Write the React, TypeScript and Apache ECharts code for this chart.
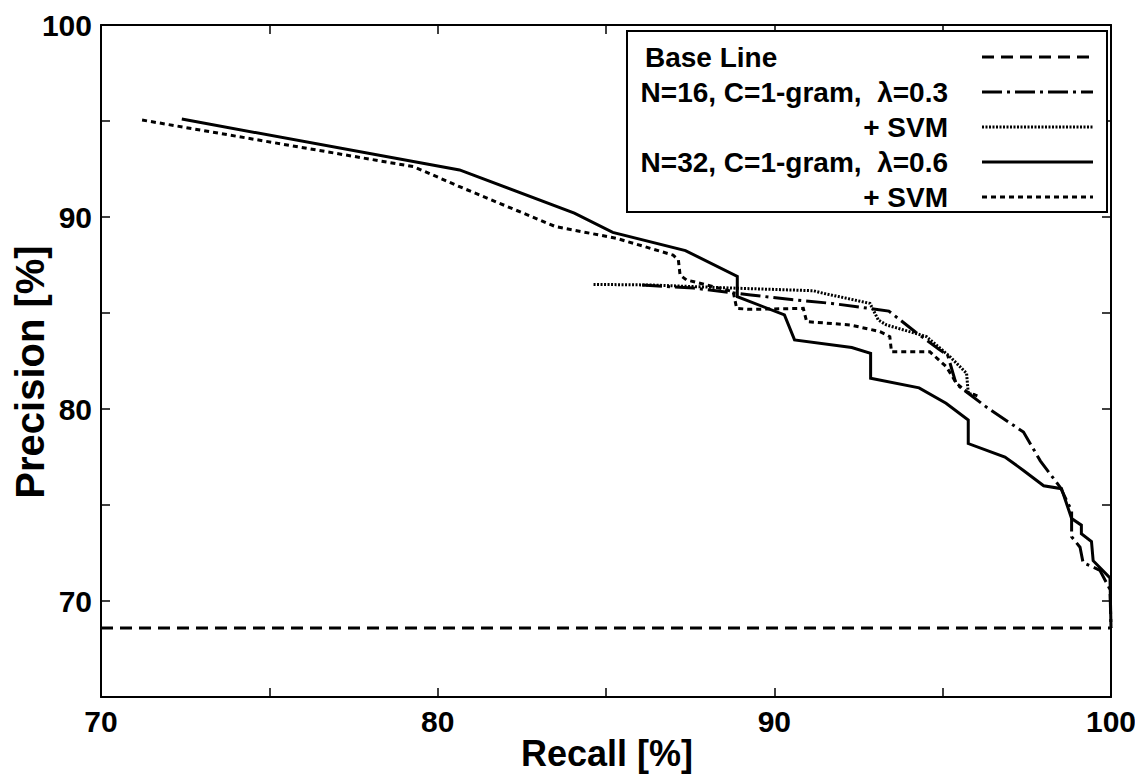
import React, { useEffect, useRef } from "react";
import * as echarts from "echarts";

// ---- data ----
const xTicks = [70, 80, 90, 100];
const yTicks = [70, 80, 90, 100];
const xTitle = "Recall [%]";
const yTitle = "Precision [%]";

const baseLineRecall = [70, 100];
const baseLinePrecision = [68.6, 68.6];

const n16Recall = [86.07, 87.6, 89.3, 90.5, 91.7, 93.0, 93.4, 94.2, 94.9, 95.15, 95.4, 95.7, 96.3, 97.4, 97.9, 98.5, 98.83, 98.83, 99.08, 99.17, 99.67, 99.97, 100];
const n16Precision = [86.46, 86.3, 85.94, 85.7, 85.5, 85.2, 85.1, 84.0, 83.1, 82.8, 81.3, 80.9, 80.1, 78.8, 77.3, 75.9, 74.7, 73.35, 72.8, 72.0, 71.6, 70.6, 68.6];

const n16SvmRecall = [84.63, 86.3, 88.9, 91.16, 91.45, 92.84, 93.09, 93.33, 94.52, 95.22, 95.71, 95.76, 95.96];
const n16SvmPrecision = [86.49, 86.46, 86.29, 86.16, 86.03, 85.5, 84.63, 84.38, 83.77, 82.72, 81.86, 80.82, 80.73];

const n32Recall = [72.4, 80.65, 84.06, 85.2, 87.36, 88.9, 88.9, 90.3, 90.6, 92.3, 92.86, 92.86, 94.3, 95.1, 95.76, 95.76, 96.85, 97.4, 98.0, 98.53, 98.83, 99.12, 99.12, 99.42, 99.47, 99.97, 100];
const n32Precision = [95.1, 92.45, 90.2, 89.2, 88.25, 86.9, 85.85, 84.9, 83.6, 83.2, 82.9, 81.6, 81.1, 80.3, 79.43, 78.2, 77.5, 76.8, 76.0, 75.85, 74.3, 73.95, 73.5, 73.1, 72.1, 71.2, 68.6];

const n32SvmRecall = [71.22, 79.29, 80.65, 83.5, 85.31, 86.99, 87.15, 87.2, 87.39, 87.79, 88.78, 88.88, 89.27, 90.86, 90.96, 92.25, 93.14, 93.43, 93.48, 94.62, 95.11, 95.41, 95.71, 96.1];
const n32SvmPrecision = [95.05, 92.62, 91.58, 89.5, 88.89, 88.02, 87.76, 86.98, 86.72, 86.55, 86.11, 85.24, 85.19, 85.24, 84.55, 84.38, 84.03, 83.77, 82.98, 82.98, 82.2, 81.34, 80.9, 80.64];

const legendLabels = [
  "Base Line",
  "N=16, C=1-gram,  \u03bb=0.3",
  "+ SVM",
  "N=32, C=1-gram,  \u03bb=0.6",
  "+ SVM",
];

const zip = (xs: number[], ys: number[]) => xs.map((x, i) => [x, ys[i]]);

const FONT = "'Liberation Sans', Arial, Helvetica, sans-serif";

const dashBase = [12, 7];
const dashDot = [20, 5, 3, 5];
const dotFine = [2, 1.5];
const dashShort = [5, 4];

export default function App() {
  const ref = useRef<HTMLDivElement>(null);

  useEffect(() => {
    if (!ref.current) return;
    const chart = echarts.init(ref.current, null, { renderer: "svg" });

    const lineSeries = (name: string, data: number[][], type: any, width = 3) => ({
      name,
      type: "line",
      data,
      symbol: "none",
      showSymbol: false,
      silent: true,
      lineStyle: { color: "#000", width, type, cap: "butt", join: "miter" },
      z: 3,
    });

    const styles = [dashBase, dashDot, dotFine, "solid", dashShort];
    const legendX0 = 982;
    const legendX1 = 1093;
    const rowY = [57, 92, 127, 162, 197];

    const graphics: any[] = [
      {
        type: "rect",
        shape: { x: 627, y: 31, width: 480, height: 181 },
        style: { fill: "#fff", stroke: "#000", lineWidth: 2 },
        z: 10,
      },
      {
        type: "text",
        x: 607,
        y: 753,
        style: {
          text: xTitle,
          font: `bold 36px ${FONT}`,
          fill: "#000",
          align: "center",
          verticalAlign: "middle",
        },
      },
      {
        type: "text",
        x: 30,
        y: 372,
        rotation: Math.PI / 2,
        style: {
          text: yTitle,
          font: `bold 40px ${FONT}`,
          fill: "#000",
          align: "center",
          verticalAlign: "middle",
        },
      },
    ];
    legendLabels.forEach((label, i) => {
      graphics.push({
        type: "text",
        x: i === 0 ? 645 : 948,
        y: rowY[i],
        style: {
          text: label,
          font: `bold 28px ${FONT}`,
          fill: "#000",
          align: i === 0 ? "left" : "right",
          verticalAlign: "middle",
        },
        z: 11,
      });
      const st = styles[i];
      graphics.push({
        type: "line",
        shape: { x1: legendX0, y1: rowY[i], x2: legendX1, y2: rowY[i] },
        style: {
          stroke: "#000",
          lineWidth: 3,
          lineDash: st === "solid" ? null : (st as number[]),
        },
        z: 11,
      });
    });

    const axisCommon = {
      type: "value",
      interval: 5,
      splitLine: { show: false },
      axisLine: { show: true, onZero: false, lineStyle: { color: "#000", width: 2 } },
      axisTick: { show: true, inside: true, length: 9, lineStyle: { color: "#000", width: 1.5 } },
    };

    const labelStyle = {
      show: true,
      margin: 9,
      color: "#000",
      fontSize: 30,
      fontWeight: "bold",
      fontFamily: FONT,
    };

    chart.setOption({
      animation: false,
      backgroundColor: "#fff",
      grid: { left: 101, right: 24, top: 25, bottom: 78, containLabel: false, outerBoundsMode: "none" },
      xAxis: [
        {
          ...axisCommon,
          position: "bottom",
          min: 70,
          max: 100,
          axisLabel: { ...labelStyle, formatter: (v: number) => (xTicks.includes(v) ? String(v) : "") },
        },
        { ...axisCommon, position: "top", min: 70, max: 100, axisLabel: { show: false } },
      ],
      yAxis: [
        {
          ...axisCommon,
          position: "left",
          min: 65,
          max: 100,
          axisLabel: { ...labelStyle, formatter: (v: number) => (yTicks.includes(v) ? String(v) : "") },
        },
        { ...axisCommon, position: "right", min: 65, max: 100, axisLabel: { show: false } },
      ],
      series: [
        lineSeries(legendLabels[0], zip(baseLineRecall, baseLinePrecision), dashBase),
        lineSeries(legendLabels[1], zip(n16Recall, n16Precision), dashDot),
        lineSeries("N=16 + SVM", zip(n16SvmRecall, n16SvmPrecision), dotFine),
        lineSeries(legendLabels[3], zip(n32Recall, n32Precision), "solid"),
        lineSeries("N=32 + SVM", zip(n32SvmRecall, n32SvmPrecision), dashShort),
      ],
      graphic: graphics,
    });

    return () => chart.dispose();
  }, []);

  return (
    <div
      ref={ref}
      style={{ position: "fixed", left: 0, top: 0, width: 1135, height: 775, background: "#fff" }}
    />
  );
}
